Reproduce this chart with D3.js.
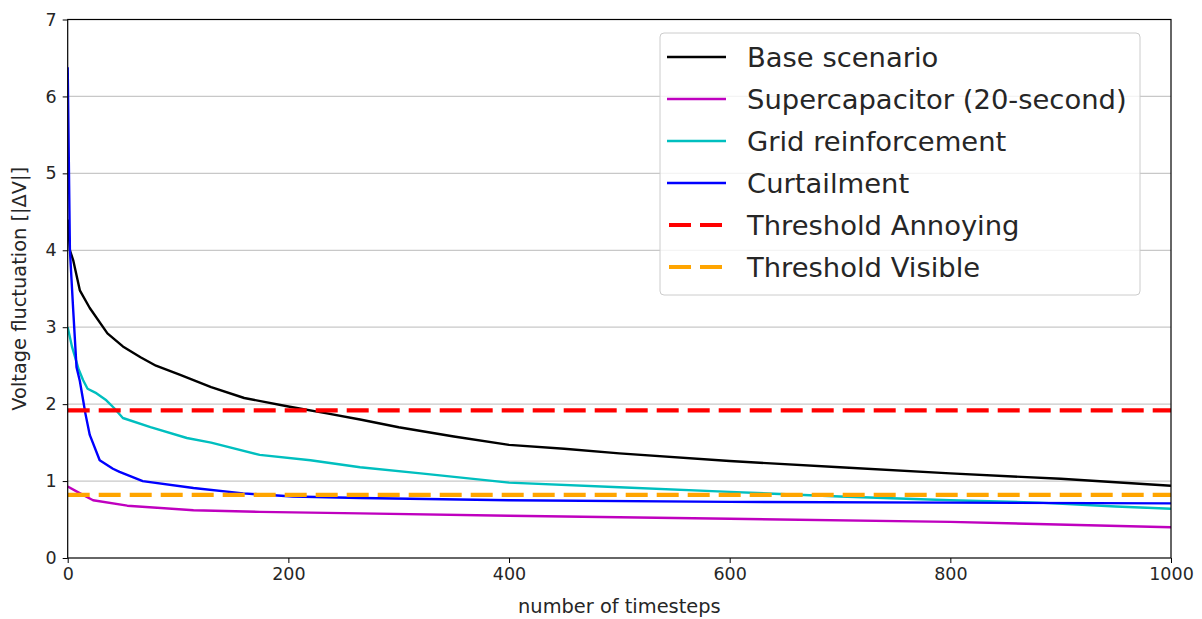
<!DOCTYPE html>
<html lang="en">

<head>
  <meta charset="utf-8">
  <title>Voltage fluctuation</title>
  <script src="https://d3js.org/d3.v7.min.js"></script>
  <style>
    body { margin: 0; background: white; }
    svg text { font-family: 'DejaVu Sans', sans-serif; fill: #262626; }
    .tick text { font-size: 17.5px; }
    .tick line { stroke: #000; }
    .axis-label { font-size: 19.4px; }
    .legend-text { font-size: 27.4px; }
    .grid line { stroke: #c8c8c8; stroke-width: 1.3; }
  </style>
</head>

<body>
  <div id="chart"></div>
  <script>
    var w = 1202;
    var h = 619;
    var margin = {top: 19.5, right: 31, bottom: 61, left: 67.7};

    // series (x = timestep, y = |dV|)
    var baseX = [0, 2, 5, 11, 20, 36, 50, 66, 80, 102, 130, 160, 200, 235, 265, 300, 350, 400, 450, 500, 600, 700, 800, 900, 1000];
    var baseY = [4.4, 4.0, 3.87, 3.48, 3.25, 2.92, 2.75, 2.61, 2.5, 2.38, 2.22, 2.08, 1.97, 1.88, 1.8, 1.7, 1.58, 1.47, 1.42, 1.36, 1.26, 1.18, 1.1, 1.03, 0.94];
    var superX = [0, 10, 23, 54, 114, 174, 265, 400, 600, 800, 1000];
    var superY = [0.93, 0.85, 0.75, 0.68, 0.62, 0.6, 0.58, 0.55, 0.51, 0.47, 0.4];
    var gridX = [0, 4, 10, 14, 18, 25, 35, 42, 50, 75, 108, 130, 174, 220, 265, 320, 400, 500, 600, 700, 800, 880, 950, 1000];
    var gridY = [3.0, 2.74, 2.45, 2.31, 2.2, 2.15, 2.05, 1.95, 1.82, 1.7, 1.56, 1.5, 1.34, 1.27, 1.18, 1.1, 0.98, 0.92, 0.86, 0.8, 0.75, 0.72, 0.67, 0.64];
    var curtX = [0, 2, 5, 8, 11, 14, 16, 20, 29, 41, 47, 68, 114, 159, 204, 265, 400, 600, 800, 1000];
    var curtY = [6.38, 4.0, 3.22, 2.48, 2.3, 2.05, 1.88, 1.6, 1.27, 1.16, 1.12, 1.0, 0.91, 0.84, 0.8, 0.78, 0.75, 0.73, 0.72, 0.71];
    var thresholdAnnoying = 1.92;
    var thresholdVisible = 0.82;

    var xTicks = [0, 200, 400, 600, 800, 1000];
    var yTicks = [0, 1, 2, 3, 4, 5, 6, 7];

    var series = [
      {name: 'Base scenario', xs: baseX, ys: baseY, color: '#000000', dash: null, width: 2.4},
      {name: 'Supercapacitor (20-second)', xs: superX, ys: superY, color: '#bf00bf', dash: null, width: 2.4},
      {name: 'Grid reinforcement', xs: gridX, ys: gridY, color: '#00bfbf', dash: null, width: 2.4},
      {name: 'Curtailment', xs: curtX, ys: curtY, color: '#0000ff', dash: null, width: 2.4},
      {name: 'Threshold Annoying', xs: [0, 1000], ys: [thresholdAnnoying, thresholdAnnoying], color: '#ff0000', dash: '22,9', width: 4.2},
      {name: 'Threshold Visible', xs: [0, 1000], ys: [thresholdVisible, thresholdVisible], color: '#ffa500', dash: '22,9', width: 4.2}
    ];

    var x = d3.scaleLinear().domain([0, 1000]).range([margin.left, w - margin.right]);
    var y = d3.scaleLinear().domain([0, 7]).range([h - margin.bottom, margin.top]);

    var svg = d3.select('#chart').append('svg')
      .attr('width', w)
      .attr('height', h);

    // horizontal grid
    svg.append('g')
      .attr('class', 'grid')
      .selectAll('line')
      .data(yTicks.filter(function (d) { return d > 0 && d < 7; }))
      .enter().append('line')
      .attr('x1', x(0)).attr('x2', x(1000))
      .attr('y1', function (d) { return y(d); })
      .attr('y2', function (d) { return y(d); });

    svg.append('clipPath').attr('id', 'plot-clip')
      .append('rect')
      .attr('x', x(0)).attr('y', y(7))
      .attr('width', x(1000) - x(0)).attr('height', y(0) - y(7));

    var line = d3.line()
      .x(function (d) { return x(d[0]); })
      .y(function (d) { return y(d[1]); });

    svg.append('g').attr('clip-path', 'url(#plot-clip)')
      .selectAll('path')
      .data(series)
      .enter().append('path')
      .attr('d', function (s) { return line(d3.zip(s.xs, s.ys)); })
      .attr('fill', 'none')
      .attr('stroke', function (s) { return s.color; })
      .attr('stroke-width', function (s) { return s.width; })
      .attr('stroke-dasharray', function (s) { return s.dash; })
      .attr('stroke-linejoin', 'round');

    // axes
    svg.append('g')
      .attr('transform', 'translate(0,' + y(0) + ')')
      .call(d3.axisBottom(x).tickValues(xTicks).tickFormat(d3.format('d')).tickSize(5).tickPadding(5));
    svg.append('g')
      .attr('transform', 'translate(' + x(0) + ',0)')
      .call(d3.axisLeft(y).tickValues(yTicks).tickFormat(d3.format('d')).tickSize(5).tickPadding(6));
    svg.selectAll('.domain').remove();

    // frame
    svg.append('rect')
      .attr('x', x(0)).attr('y', y(7))
      .attr('width', x(1000) - x(0)).attr('height', y(0) - y(7))
      .attr('fill', 'none')
      .attr('stroke', '#000')
      .attr('stroke-width', 1.2);

    svg.append('text')
      .attr('class', 'axis-label')
      .attr('x', (x(0) + x(1000)) / 2)
      .attr('y', 613)
      .attr('text-anchor', 'middle')
      .text('number of timesteps');

    svg.append('text')
      .attr('class', 'axis-label')
      .attr('transform', 'translate(26,' + ((y(0) + y(7)) / 2) + ') rotate(-90)')
      .attr('text-anchor', 'middle')
      .text('Voltage fluctuation [|ΔV|]');

    // legend
    var lg = svg.append('g');
    lg.append('rect')
      .attr('x', 660).attr('y', 33)
      .attr('width', 480).attr('height', 262)
      .attr('rx', 4)
      .attr('fill', 'white')
      .attr('fill-opacity', 0.8)
      .attr('stroke', '#cccccc');

    var item = lg.selectAll('g.item')
      .data(series)
      .enter().append('g')
      .attr('class', 'item')
      .attr('transform', function (d, i) { return 'translate(0,' + (57 + i * 42) + ')'; });

    item.append('line')
      .attr('x1', function (s) { return s.dash ? 669 : 667; })
      .attr('x2', function (s) { return s.dash ? 722 : 726; })
      .attr('stroke', function (s) { return s.color; })
      .attr('stroke-width', function (s) { return s.dash ? 4.2 : 2.6; })
      .attr('stroke-dasharray', function (s) { return s.dash; });

    item.append('text')
      .attr('class', 'legend-text')
      .attr('x', 747)
      .attr('dy', '0.35em')
      .text(function (s) { return s.name; });
  </script>
</body>

</html>
